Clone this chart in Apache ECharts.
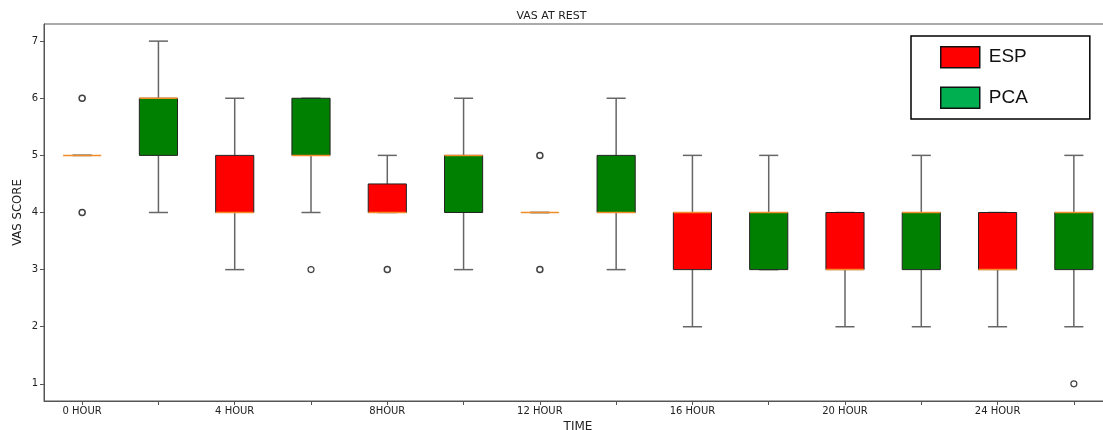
<!DOCTYPE html>
<html>
<head>
<meta charset="utf-8">
<script src="https://cdn.jsdelivr.net/npm/echarts@6/dist/echarts.min.js"></script>
<style>html,body{margin:0;padding:0;background:#fff}#c{width:1103px;height:430px}</style>
</head>
<body>
<div id="c"></div>
<script>
// ---- data ----
const timepoints = ["0 HOUR", "4 HOUR", "8HOUR", "12 HOUR", "16 HOUR", "20 HOUR", "24 HOUR"];
// [min, Q1, median, Q3, max]
const espStats = [[5,5,5,5,5],[3,4,4,5,6],[4,4,4,4.5,5],[4,4,4,4,4],[2,3,4,4,5],[2,3,3,4,4],[2,3,3,4,4]];
const pcaStats = [[4,5,6,6,7],[4,5,5,6,6],[3,4,5,5,6],[3,4,4,5,6],[3,3,4,4,5],[2,3,4,4,5],[2,3,4,4,5]];
// [timepoint index, value]
const espOutliers = [[0,4],[0,6],[2,3],[3,3],[3,5]];
const pcaOutliers = [[1,3],[6,1]];
const yTicks = [1,2,3,4,5,6,7];

// ---- build ----
const categories = [];
timepoints.forEach(t => { categories.push(t); categories.push(t + " "); });
const espBoxes = espStats.map((s, i) => [2*i].concat(s));
const pcaBoxes = pcaStats.map((s, i) => [2*i+1].concat(s));
const espOut = espOutliers.map(o => [2*o[0], o[1]]);
const pcaOut = pcaOutliers.map(o => [2*o[0]+1, o[1]]);

function makeRender(fill) {
  return function (params, api) {
    const x = api.value(0);
    const lo = api.value(1), q1 = api.value(2), med = api.value(3), q3 = api.value(4), hi = api.value(5);
    const band = api.size([1, 0])[0];
    const bw = band * 0.5, cw = band * 0.25;
    const pLo = api.coord([x, lo]), pQ1 = api.coord([x, q1]), pMed = api.coord([x, med]);
    const pQ3 = api.coord([x, q3]), pHi = api.coord([x, hi]);
    const cx = pMed[0];
    const wStyle = { stroke: '#666', lineWidth: 1.5, fill: null };
    const children = [
      { type: 'line', shape: { x1: cx, y1: pQ1[1], x2: cx, y2: pLo[1] }, style: wStyle },
      { type: 'line', shape: { x1: cx, y1: pQ3[1], x2: cx, y2: pHi[1] }, style: wStyle },
      { type: 'line', shape: { x1: cx - cw/2, y1: pLo[1], x2: cx + cw/2, y2: pLo[1] }, style: wStyle },
      { type: 'line', shape: { x1: cx - cw/2, y1: pHi[1], x2: cx + cw/2, y2: pHi[1] }, style: wStyle }
    ];
    if (q3 > q1) {
      children.push({ type: 'rect', shape: { x: cx - bw/2, y: pQ3[1], width: bw, height: pQ1[1] - pQ3[1] },
        style: { fill: fill, stroke: '#222', lineWidth: 1 } });
    }
    children.push({ type: 'line', shape: { x1: cx - bw/2, y1: pMed[1], x2: cx + bw/2, y2: pMed[1] },
      style: { stroke: '#f28c28', lineWidth: 1.5 } });
    return { type: 'group', children: children };
  };
}

const chart = echarts.init(document.getElementById('c'), null, { renderer: 'canvas' });
const font = 'DejaVu Sans';
chart.setOption({
  animation: false,
  backgroundColor: '#fff',
  textStyle: { fontFamily: font },
  title: { text: 'VAS AT REST', left: 'center', top: 6, textStyle: { fontSize: 11, fontWeight: 'normal', color: '#222', fontFamily: font } },
  grid: { left: 44, top: 24, width: 1068, height: 377, show: true, borderColor: '#555', borderWidth: 1,
    backgroundColor: 'transparent', containLabel: false, outerBoundsMode: 'none' },
  legend: {
    left: 911, top: 36, orient: 'vertical', padding: [10, 62, 10, 29],
    itemWidth: 39, itemHeight: 21, itemGap: 18,
    borderColor: '#000', borderWidth: 1.5, backgroundColor: '#fff',
    textStyle: { fontSize: 19, color: '#111', fontFamily: 'Liberation Sans', padding: [0, 0, 0, 4] },
    data: [
      { name: 'ESP', icon: 'rect', itemStyle: { color: '#ff0000', borderColor: '#111', borderWidth: 1.5 } },
      { name: 'PCA', icon: 'rect', itemStyle: { color: '#00b050', borderColor: '#111', borderWidth: 1.5 } }
    ]
  },
  xAxis: {
    type: 'category', data: categories, boundaryGap: true,
    name: 'TIME', nameLocation: 'middle', nameGap: 20, nameMoveOverlap: false,
    nameTextStyle: { fontSize: 12, color: '#222', fontFamily: font },
    axisLine: { lineStyle: { color: '#555', width: 1 } },
    axisTick: { show: true, alignWithLabel: true, interval: 0, length: 4, lineStyle: { color: '#555' } },
    axisLabel: { interval: 0, fontSize: 10, color: '#222', margin: 5,
      formatter: v => (v.endsWith(' ') ? '' : v) },
    splitLine: { show: false }
  },
  yAxis: {
    type: 'value', min: 0.7, max: 7.3,
    name: 'VAS SCORE', nameLocation: 'middle', nameGap: 20, nameRotate: 90, nameMoveOverlap: false,
    nameTextStyle: { fontSize: 13, color: '#222', fontFamily: 'Liberation Sans Narrow, DejaVu Sans Condensed, DejaVu Sans' },
    axisLine: { show: true, lineStyle: { color: '#555', width: 1 } },
    axisTick: { show: true, length: 4, customValues: yTicks, lineStyle: { color: '#555' } },
    axisLabel: { fontSize: 10, color: '#222', margin: 6, customValues: yTicks },
    splitLine: { show: false }
  },
  series: [
    { name: 'ESP', type: 'custom', renderItem: makeRender('#ff0000'), data: espBoxes,
      encode: { x: 0, y: [1,2,3,4,5] }, itemStyle: { color: '#ff0000' } },
    { name: 'PCA', type: 'custom', renderItem: makeRender('#008000'), data: pcaBoxes,
      encode: { x: 0, y: [1,2,3,4,5] }, itemStyle: { color: '#008000' } },
    { name: 'ESP outliers', type: 'scatter', data: espOut, symbol: 'circle', symbolSize: 6,
      itemStyle: { color: '#fff', borderColor: '#111', borderWidth: 1.5 }, z: 5 },
    { name: 'PCA outliers', type: 'scatter', data: pcaOut, symbol: 'circle', symbolSize: 6,
      itemStyle: { color: '#fff', borderColor: '#111', borderWidth: 1.2 }, z: 5 }
  ]
});
</script>
</body>
</html>
